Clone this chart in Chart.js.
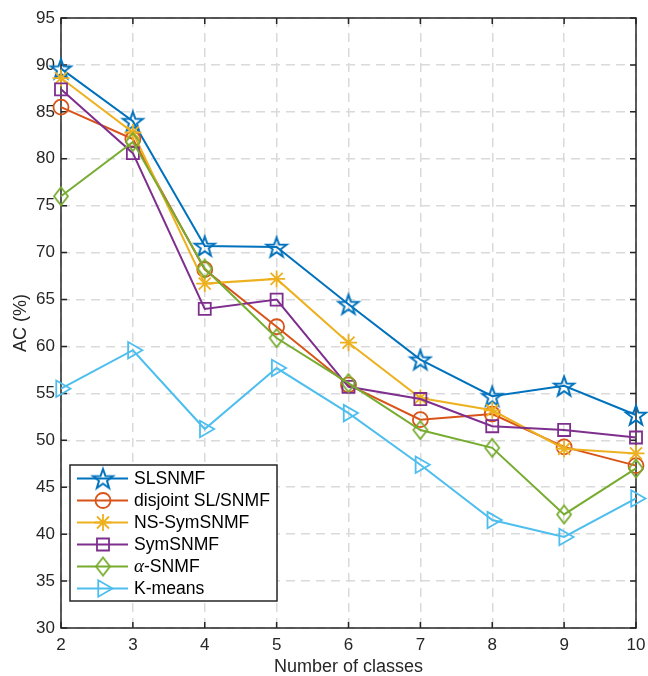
<!DOCTYPE html>
<html>
<head>
<meta charset="utf-8">
<script src="https://cdn.jsdelivr.net/npm/chart.js"></script>
<style>
  body { margin: 0; background: #fff; }
  canvas { display: block; }
</style>
</head>
<body>
<canvas id="myChart" width="648" height="676"></canvas>
<script>
const classes = [2, 3, 4, 5, 6, 7, 8, 9, 10];

const slsnmf   = [89.6, 84.0, 70.7, 70.6, 64.5, 58.6, 54.7, 55.8, 52.7];
const disjoint = [85.5, 82.1, 68.2, 62.1, 55.9, 52.2, 52.8, 49.3, 47.3];
const nsSym    = [88.6, 82.8, 66.7, 67.2, 60.4, 54.5, 53.2, 49.1, 48.6];
const symSnmf  = [87.4, 80.6, 64.0, 65.0, 55.7, 54.4, 51.5, 51.1, 50.3];
const alphaSn  = [76.0, 81.8, 68.3, 60.9, 56.1, 51.1, 49.2, 42.1, 47.0];
const kmeans   = [55.5, 59.6, 51.2, 57.7, 52.9, 47.4, 41.5, 39.7, 43.8];

const seriesNames = ['SLSNMF', 'disjoint SL/SNMF', 'NS-SymSNMF', 'SymSNMF', 'α-SNMF', 'K-means'];
const seriesColors = ['#0072BD', '#D95319', '#EDB120', '#7E2F8E', '#77AC30', '#4DBEEE'];

const yTicks = [30, 35, 40, 45, 50, 55, 60, 65, 70, 75, 80, 85, 90, 95];

// five-pointed star marker (matlab 'pentagram')
function pentagram(color) {
    const c = document.createElement('canvas');
    c.width = 26; c.height = 26;
    const g = c.getContext('2d');
    const R = 10.5, r = R * 0.4;
    g.beginPath();
    for (let k = 0; k < 10; k++) {
        const rad = k % 2 === 0 ? R : r;
        const a = -Math.PI / 2 + k * Math.PI / 5;
        const px = 13 + rad * Math.cos(a), py = 14 + rad * Math.sin(a);
        if (k === 0) g.moveTo(px, py); else g.lineTo(px, py);
    }
    g.closePath();
    g.strokeStyle = color;
    g.lineWidth = 2;
    g.stroke();
    return c;
}

// tall diamond marker (matlab 'd')
function diamond(color) {
    const c = document.createElement('canvas');
    c.width = 20; c.height = 22;
    const g = c.getContext('2d');
    g.beginPath();
    g.moveTo(10, 2); g.lineTo(17, 11); g.lineTo(10, 20); g.lineTo(3, 11);
    g.closePath();
    g.strokeStyle = color;
    g.lineWidth = 1.8;
    g.stroke();
    return c;
}

const markers = [
    { style: pentagram(seriesColors[0]), radius: 10, rotation: 0 },
    { style: 'circle', radius: 7.5, rotation: 0 },
    { style: 'star', radius: 8.5, rotation: 0 },
    { style: 'rect', radius: 8.5, rotation: 0 },
    { style: diamond(seriesColors[4]), radius: 9, rotation: 0 },
    { style: 'triangle', radius: 9.5, rotation: 90 },
];

const allSeries = [slsnmf, disjoint, nsSym, symSnmf, alphaSn, kmeans];

const datasets = allSeries.map((vals, i) => ({
    label: seriesNames[i],
    data: classes.map((c, j) => ({ x: c, y: vals[j] })),
    borderColor: seriesColors[i],
    backgroundColor: seriesColors[i],
    borderWidth: 2,
    pointStyle: markers[i].style,
    pointRadius: markers[i].radius,
    pointRotation: markers[i].rotation,
    pointBorderColor: seriesColors[i],
    pointBackgroundColor: 'rgba(0,0,0,0)',
    pointBorderWidth: 1.8,
    tension: 0,
    clip: false,
    order: allSeries.length - i,
}));

const axisColor = '#262626';
const tickFont = { family: 'Liberation Sans, Arial, sans-serif', size: 17 };

// box around the axes with inward ticks on all four sides
const boxPlugin = {
    id: 'box',
    beforeDatasetsDraw(chart) {
        const { ctx, chartArea: a, scales } = chart;
        ctx.save();
        ctx.strokeStyle = axisColor;
        ctx.lineWidth = 1.5;
        ctx.beginPath();
        const len = 6;
        scales.x.ticks.forEach(t => {
            const px = scales.x.getPixelForValue(t.value);
            ctx.moveTo(px, a.bottom); ctx.lineTo(px, a.bottom - len);
            ctx.moveTo(px, a.top); ctx.lineTo(px, a.top + len);
        });
        scales.y.ticks.forEach(t => {
            const py = scales.y.getPixelForValue(t.value);
            ctx.moveTo(a.left, py); ctx.lineTo(a.left + len, py);
            ctx.moveTo(a.right, py); ctx.lineTo(a.right - len, py);
        });
        ctx.stroke();
        ctx.strokeRect(a.left, a.top, a.right - a.left, a.bottom - a.top);
        ctx.restore();
    }
};

// matlab-like legend: line with marker, inside the lower left corner
const legendPlugin = {
    id: 'mlegend',
    afterDraw(chart) {
        const { ctx, chartArea: a } = chart;
        const x0 = a.left + 9, y0 = a.bottom - 163, w = 207, h = 136;
        ctx.save();
        ctx.fillStyle = '#fff';
        ctx.fillRect(x0, y0, w, h);
        ctx.strokeStyle = axisColor;
        ctx.lineWidth = 1.5;
        ctx.strokeRect(x0, y0, w, h);
        chart.data.datasets.forEach((ds, i) => {
            const yy = y0 + 13.5 + i * 22;
            ctx.strokeStyle = ds.borderColor;
            ctx.lineWidth = 2.2;
            ctx.beginPath();
            ctx.moveTo(x0 + 7, yy);
            ctx.lineTo(x0 + 58, yy);
            ctx.stroke();
            ctx.fillStyle = 'rgba(0,0,0,0)';
            ctx.lineWidth = 1.8;
            Chart.helpers.drawPoint(ctx, {
                pointStyle: ds.pointStyle,
                radius: ds.pointRadius,
                rotation: ds.pointRotation,
                borderWidth: 1.8,
            }, x0 + 33, yy);
            ctx.fillStyle = '#000';
            ctx.textBaseline = 'middle';
            let tx = x0 + 64;
            let label = ds.label;
            if (label.startsWith('α')) {
                ctx.font = 'italic 19px "Liberation Serif", serif';
                ctx.fillText('α', tx, yy);
                tx += ctx.measureText('α').width;
                label = label.slice(1);
            }
            ctx.font = '17.6px "Liberation Sans", Arial, sans-serif';
            ctx.fillText(label, tx, yy + 1);
        });
        ctx.restore();
    }
};

new Chart(document.getElementById('myChart'), {
    type: 'line',
    data: { datasets },
    options: {
        responsive: false,
        animation: false,
        layout: { padding: { top: 18, right: 12, left: 0, bottom: 0 } },
        plugins: {
            legend: { display: false },
            tooltip: { enabled: false },
        },
        scales: {
            x: {
                type: 'linear',
                min: 2,
                max: 10,
                afterBuildTicks: s => { s.ticks = classes.map(v => ({ value: v })); },
                afterFit: s => { s.height = 48; s.paddingRight = 0; s.paddingLeft = 0; },
                grid: { color: '#dadada', lineWidth: 1.5, drawTicks: false },
                border: { display: false, dash: [9, 6] },
                ticks: { color: axisColor, font: tickFont, padding: 7, maxRotation: 0 },
                title: {
                    display: true,
                    text: 'Number of classes',
                    color: axisColor,
                    font: { family: 'Liberation Sans, Arial, sans-serif', size: 18 },
                    padding: { top: 0, bottom: -2 },
                },
            },
            y: {
                min: 30,
                max: 95,
                afterBuildTicks: s => { s.ticks = yTicks.map(v => ({ value: v })); },
                afterFit: s => { s.width = 61; },
                grid: { color: '#dadada', lineWidth: 1.5, drawTicks: false },
                border: { display: false, dash: [9, 6] },
                ticks: { color: axisColor, font: tickFont, padding: 6 },
                title: {
                    display: true,
                    text: 'AC (%)',
                    color: axisColor,
                    font: { family: 'Liberation Sans, Arial, sans-serif', size: 18 },
                    padding: { top: 10, bottom: 0 },
                },
            },
        },
    },
    plugins: [boxPlugin, legendPlugin],
});
</script>
</body>
</html>
